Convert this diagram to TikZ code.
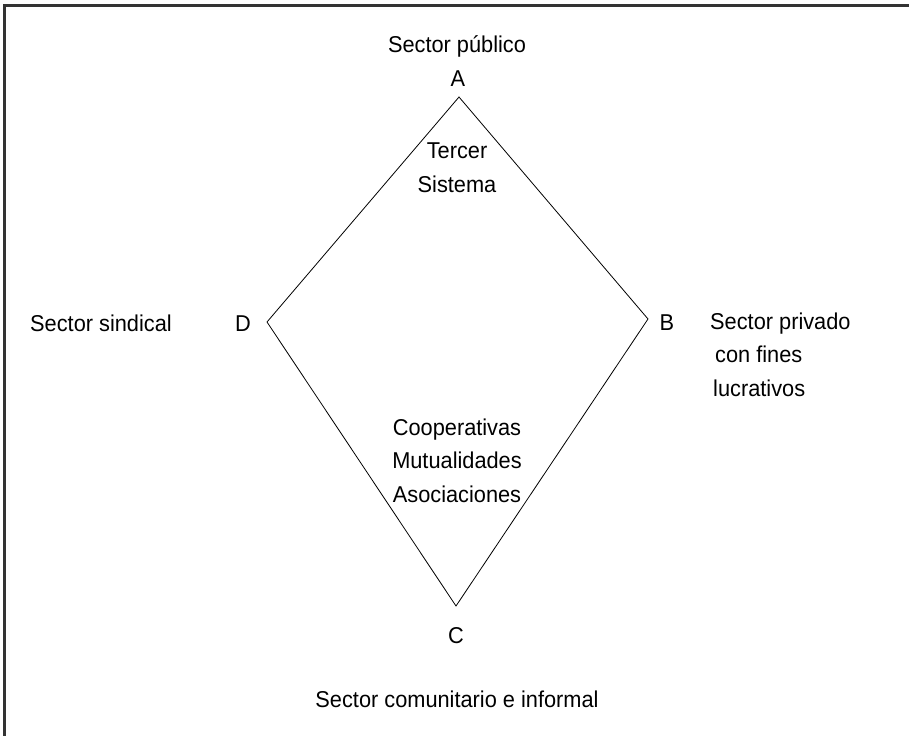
\documentclass[tikz,border=0pt]{standalone}
\usepackage{fontspec}
\setmainfont[FakeStretch=0.95]{Liberation Sans}
\begin{document}
\begin{tikzpicture}
        [x=1bp,y=-1bp,
        txt/.style={font=\fontsize{23}{33.5}\selectfont, inner sep=0pt, anchor=base},
        line/.style={line width=0.8bp, line join=miter},
        frame/.style={line width=2.2bp, draw=black!80}]
        \useasboundingbox (0,0) rectangle (909,736);
        \draw[frame] (4.5,736) -- (4.5,5.5) -- (909,5.5);
        % corners of the rhombus
        \coordinate (a) at (459,97);
        \coordinate (b) at (648,319);
        \coordinate (c) at (456,606);
        \coordinate (d) at (267,322);
        \draw[line] (a) -- (b) -- (c) -- (d) -- cycle;
        % corner letters
        \node[txt] (la) at (458,87) {A};
        \node[txt] (lb) at (667,330) {B};
        \node[txt] (lc) at (456,643) {C};
        \node[txt] (ld) at (243,331) {D};
        % sectors (multi-line nodes sit on their last baseline)
        \node[txt] (publico) at (457,53) {Sector público};
        \node[txt] (sindical) at (101,331) {Sector sindical};
        \node[txt,anchor=base west,align=left] (privado) at (710,396)
            {Sector privado\\\hspace*{5bp}con fines\\\hspace*{3bp}lucrativos};
        \node[txt] (comunitario) at (457,707) {Sector comunitario e informal};
        % inside the rhombus
        \node[txt,align=center] (tercer) at (457,192) {Tercer\\Sistema};
        \node[txt,align=center] (coop) at (457,502)
            {Cooperativas\\Mutualidades\\Asociaciones};
\end{tikzpicture}
\end{document}
